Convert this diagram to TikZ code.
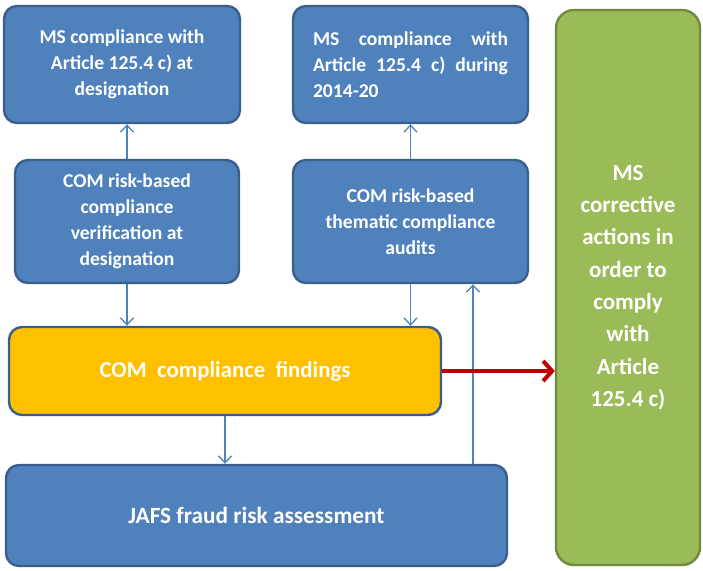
\documentclass[tikz,border=0pt]{standalone}
\usepackage{fontspec}
\setmainfont{Carlito}
\usetikzlibrary{arrows.meta}
\definecolor{boxblue}{HTML}{4F81BD}
\definecolor{edgeblue}{HTML}{3A5F8B}
\definecolor{findyellow}{HTML}{FFC000}
\definecolor{actgreen}{HTML}{9BBB59}
\definecolor{edgegreen}{HTML}{71893F}
\definecolor{linkred}{HTML}{C00000}
\begin{document}
\begin{tikzpicture}[x=1pt,y=-1pt,
  box/.style={draw=edgeblue, fill=boxblue, line width=2.4pt, rounded corners=13pt,
    text=white, font=\fontsize{19.6}{26}\selectfont\bfseries, align=center, inner sep=0pt},
  findbox/.style={box, fill=findyellow, font=\fontsize{22.8}{26}\selectfont\bfseries},
  actbox/.style={box, draw=edgegreen, fill=actgreen, rounded corners=18pt,
    font=\fontsize{23}{32.3}\selectfont\bfseries},
  arr/.style={draw=boxblue, line width=1.3pt, -{Straight Barb[length=7pt,width=13pt,line width=1.3pt]}},
  redarr/.style={draw=linkred, line width=4pt, -{Straight Barb[length=9pt,width=20pt,line width=4pt]}}]
\useasboundingbox (0,0) rectangle (703,570);

\node[box, minimum width=236pt, minimum height=117pt] (a) at (122,64.5)
  {MS compliance with\\Article 125.4 c) at\\designation};
\node[box, minimum width=235pt, minimum height=117pt] (b) at (410.5,64.5)
  {\hbox to 195pt{MS\hfill compliance\hfill with}\\
   \hbox to 195pt{Article\hfill 125.4\hfill c)\hfill during}\\
   \hbox to 195pt{2014-20\hfill}};
\node[box, minimum width=224pt, minimum height=123pt] (c) at (127,221.5)
  {COM risk-based\\compliance\\verification at\\designation};
\node[box, minimum width=235pt, minimum height=123pt] (d) at (410.5,221.5)
  {COM risk-based\\thematic compliance\\audits};
\node[findbox, minimum width=432pt, minimum height=88pt] (e) at (225,371)
  {COM\ \ compliance\ \ findings};
\node[box, minimum width=501pt, minimum height=101pt, font=\fontsize{23.3}{26}\selectfont\bfseries] (f) at (256.5,515.5)
  {JAFS fraud risk assessment};
\node[actbox, minimum width=144pt, minimum height=555pt] (g) at (628,287.5)
  {MS\\corrective\\actions in\\order to\\comply\\with\\Article\\125.4 c)};

\coordinate (fup) at (473,0);
\draw[arr] (c.north) -- (c.north |- a.south);
\draw[arr] (d.north) -- (d.north |- b.south);
\draw[arr] (c.south) -- (c.south |- e.north);
\draw[arr] (d.south) -- (d.south |- e.north);
\draw[arr] (e.south) -- (e.south |- f.north);
\draw[arr] (f.north -| fup) -- (fup |- d.south);
\draw[redarr] (e.east) -- (e.east -| g.west);
\end{tikzpicture}
\end{document}
